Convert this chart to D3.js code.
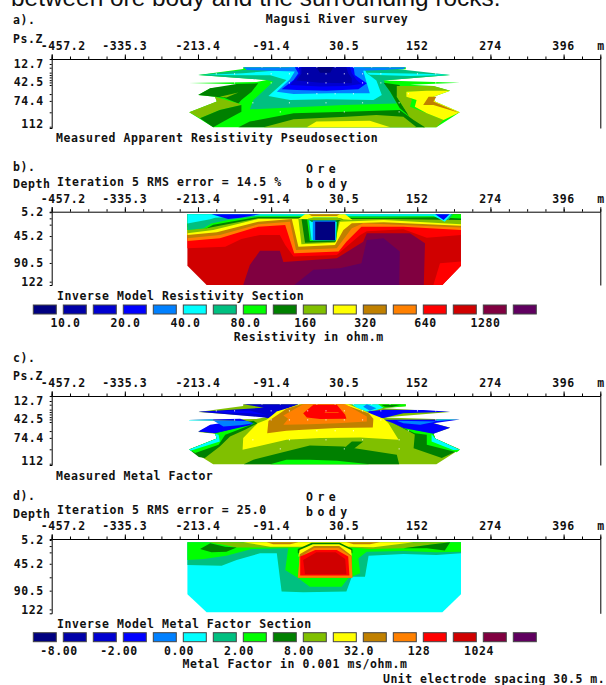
<!DOCTYPE html>
<html>
<head>
<meta charset="utf-8">
<script src="https://cdn.jsdelivr.net/npm/d3@7"></script>
<style>
  body { margin: 0; background: #fff; overflow: hidden; }
  svg { display: block; }
  text { font-family: "DejaVu Sans Mono", monospace; font-weight: bold; font-size: 11.5px; letter-spacing: 0.57px; fill: #111; }
</style>
</head>
<body>
<div id="chart"></div>
<script>
// level colours, same scale for both legends
const levelColors = ["#000080", "#0000a8", "#0000d0", "#0000ff", "#0080ff", "#00ffff", "#00c080", "#00ff00",
    "#008000", "#80c000", "#ffff00", "#c08000", "#ff8000", "#ff0000", "#d00000", "#800040", "#600060"];

const resistivityLabels = ["10.0", "20.0", "40.0", "80.0", "160", "320", "640", "1280"];
const metalLabels = ["-8.00", "-2.00", "0.00", "2.00", "8.00", "32.0", "128", "1024"];

const xMajorLabels = [-457.2, -335.3, -213.4, -91.4, 30.5, 152, 274, 396];

const pseudoDepthLabels = [12.7, 42.5, 74.4, 112];
const pseudoDepthTicks = [12.7, 18.8, 27, 31, 34.9, 39.4, 43.2, 47.5, 62.5, 73.8, 92.7, 116.6];
const modelDepthLabels = [5.2, 45.2, 90.5, 122];
const modelDepthTicks = [5.2, 15.4, 26, 45.2, 68, 90.5, 122];

// measured data points (metres, depth)
const pointRows = [
    [17.7, [-106.7, -76.2, -45.7, -15.2, 15.2, 45.7, 76.2, 106.7]],
    [29, [-182.9, -152.4, -91.4, -61, -30.5, 0, 30.5, 61, 91.4, 152.4, 182.9]],
    [44, [-152.4, -91.4, -61, -30.5, 0, 30.5, 61, 91.4, 182.9]],
    [62, [-15.2, 15.2, 45.7, 137.2]],
    [77, [-121.9, -61, 0, 61, 121.9]],
    [92, [-76.2, 30.5, 121.9]]
];

// section outlines, metres along the line and depth in metres
const pseudoOutline = [[-138, 18], [133, 18], [133, 21.5], [96, 24.8], [207, 31], [96, 40], [223, 43.6], [140, 47], [179, 49],
    [207, 57], [179, 66.8], [182, 75], [223, 92.7], [184, 117.6], [-188, 117.6], [-228, 92.7], [-182, 75], [-185, 66.8], [-213, 64],
    [-193, 53], [-127, 46.5], [-228, 44], [-116, 42.5], [-99, 39], [-213, 31], [-138, 21]];
const resModelOutline = [[-231, 8.6], [225, 8.6], [225, 95], [194, 127.6], [-199, 127.6], [-231, 95]];
const metalModelOutline = [[-231, 9], [225, 9], [225, 96.6], [194, 127], [-199, 127], [-231, 96.6]];

// a) contour bands in paint order: [level, points]
const apparentResBands = [
    [7, pseudoOutline],
    [6, [[-213, 31], [-138, 22.6], [133, 22.6], [207, 31], [96, 40], [118, 78], [29, 80.6], [-49, 84.5], [-127, 87.8], [-121, 72.3], [-88, 42], [-99, 39]]],
    [5, [[-204, 31], [-138, 28], [-71, 22.6], [-60, 18], [62, 18], [68, 28], [84, 40], [93, 64], [79, 72.3], [1, 71], [-60, 72.3], [-96, 65.7], [-66, 39], [-93, 31.5]]],
    [5, [[68, 27], [162, 29], [207, 31], [140, 32.6], [73, 30.5]]],
    [4, [[-138, 18], [133, 18], [129, 21.5], [62, 23.7], [68, 44.7], [73, 61], [7, 61], [-54, 62.4], [-82, 58.5], [-60, 38], [-52, 25], [-132, 22.6]]],
    [3, [[-52, 18], [46, 18], [48, 31], [68, 44.7], [54, 54.7], [1, 57], [-49, 55.8], [-74, 54.7], [-54, 39], [-46, 28]]],
    [2, [[-46, 18], [40, 18], [43, 28], [51, 39], [59, 46], [34, 49], [-10, 50], [-60, 47.5], [-50, 36.4], [-43, 28]]],
    [1, [[-41, 18], [34, 18], [37, 28], [43, 36.4], [43, 44.7], [-10, 43.6], [-49, 40], [-41, 29]]],
    [0, [[-16, 18], [12, 18], [7, 27], [-10, 27]]],
    [8, [[-213, 64], [-193, 53], [-149, 46], [-113, 44.7], [-124, 58.5], [-141, 72.3], [-146, 78], [-171, 68], [-185, 66.8]]],
    [9, [[-177, 66.8], [-146, 60], [-166, 68]]],
    [9, [[-228, 92.7], [-182, 75], [-185, 66.8], [-146, 78], [-141, 80.6], [-177, 89], [-210, 102.7]]],
    [8, [[-210, 102.7], [-177, 89], [-141, 80.6], [-141, 91.6], [-171, 108], [-188, 117.6]]],
    [8, [[96, 43.6], [123, 47.5], [118, 66.8], [134, 91.6], [184, 115.4], [162, 117.6], [146, 105.4], [123, 86], [107, 58.5]]],
    [9, [[118, 49], [179, 49], [207, 57], [162, 58.5], [134, 58.5], [143, 72.3], [140, 83.4], [168, 94.4], [196, 105.4], [184, 117.6], [148, 117.6], [134, 91.6], [118, 66.8]]],
    [10, [[134, 58.5], [168, 57], [207, 57], [179, 66.8], [182, 75], [223, 92.7], [196, 105.4], [168, 94.4], [148, 83.4], [151, 72.3], [134, 66.8]]],
    [11, [[162, 80.6], [171, 66.8], [184, 66.8], [179, 75], [223, 94], [179, 80.6]]],
    [8, [[-146, 117.6], [-127, 108], [-54, 94.4], [34, 91.6], [123, 89], [146, 105.4], [165, 117.6]]],
    [9, [[-104, 117.6], [-54, 104.3], [34, 100], [84, 97], [129, 100], [151, 117.6]]],
    [10, [[-32, 117.6], [-16, 108], [73, 106.5], [107, 117.6]]]
];

// b) inverse model resistivity
const modelResBands = [
    [14, resModelOutline],
    [15, [[-138, 127.6], [-127, 93.9], [-110, 70], [-77, 70], [-71, 89], [18, 82.6], [62, 54.6], [68, 40.6], [140, 40.6], [165, 57.4], [163, 127.6]]],
    [16, [[-53, 127.6], [-21, 102], [23, 99.5], [59, 91], [68, 51.8], [96, 49], [123, 71.4], [122, 127.6]]],
    [13, [[225, 88], [190, 91], [179, 127.6], [194, 127.6], [225, 95]]],
    [13, [[-231, 65.8], [-168, 63], [-141, 50], [-110, 43.4], [-77, 43.4], [-68, 60.2], [-54, 79.8], [18, 77], [34, 63], [57, 43.4], [68, 37], [129, 33.6], [168, 48], [225, 43.4], [225, 8.6], [-231, 8.6]]],
    [12, [[-231, 53.5], [-177, 49], [-113, 29.4], [-68, 26.6], [-53, 74], [21, 71.4], [34, 54.6], [59, 29.4], [129, 29.4], [225, 35], [225, 8.6], [-231, 8.6]]],
    [11, [[-231, 49], [-177, 43.4], [-113, 25.4], [-60, 21], [-50, 68.6], [18, 65.8], [43, 32], [62, 23.8], [225, 31], [225, 8.6], [-231, 8.6]]],
    [10, [[-231, 43.4], [-182, 38.9], [-113, 21], [-57, 16.5], [-46, 63], [15, 60.2], [29, 35], [43, 23.8], [96, 22], [225, 27.7], [225, 8.6], [-231, 8.6]]],
    [9, [[-231, 40.6], [-188, 35], [-113, 16.5], [-46, 16.5], [-41, 59], [15, 56.3], [23, 21], [96, 18], [225, 25.4], [225, 8.6], [-231, 8.6]]],
    [8, [[-199, 32], [-113, 15.4], [-41, 15.4], [-35, 56.3], [16, 54.6], [21, 20], [29, 16.6], [96, 16.6], [225, 18.3], [225, 8.6], [-231, 8.6], [-231, 30]]],
    [7, [[-231, 35], [-199, 32], [-188, 26], [-113, 13], [-32, 13], [-27, 53.5], [17, 52.4], [19, 14.5], [96, 14.5], [184, 13.6], [225, 15.8], [225, 8.6], [-231, 8.6]]],
    [6, [[-231, 35], [-204, 32], [-191, 24], [-163, 18], [-113, 11.8], [-30, 11.8], [-26, 52], [17, 52], [18, 12.3], [96, 12.9], [179, 11.8], [204, 18], [212, 8.6], [-231, 8.6]]],
    [5, [[-231, 24], [-193, 17], [-185, 14.5], [-113, 10.6], [-29, 10.6], [-24, 52], [16, 52], [18, 11], [179, 11], [198, 21], [209, 8.6], [-231, 8.6]]],
    [3, [[-191, 8.6], [-163, 16.5], [-143, 14.2], [-110, 8.6]]],
    [3, [[182, 8.6], [206, 8.6], [196, 18]]],
    [10, [[-46, 16.5], [-35, 8.6], [32, 8.6], [44, 18], [29, 17], [18, 14], [-21, 14], [-32, 17]]],
    [9, [[-32, 17], [-21, 14], [18, 14], [29, 17], [23, 18.5], [-27, 18.5]]],
    [8, [[-28, 18.5], [24, 18.5], [20, 21], [-24, 21]]],
    [11, [[-29, 8.6], [23, 8.6], [18, 11.5], [-24, 11.5]]],
    [4, [[-22, 19], [16, 19], [16, 52.5], [-22, 52.5]]],
    [0, [[-18, 21], [15, 21], [15, 51.8], [-18, 51.8]]]
];

// c) measured metal factor
const apparentMetalBands = [
    [9, pseudoOutline],
    [8, [[-212, 105.6], [-228, 93], [-182, 75], [-185, 66], [-213, 63], [-185, 57.6], [-121, 45.5], [-114, 49.4], [-135, 60.4], [-160, 71.5], [-177, 88], [-202, 107.3]]],
    [7, [[-218, 99], [-228, 93], [-182, 75], [-185, 66], [-160, 60], [-127, 50], [-118, 49.4], [-168, 68.7], [-179, 85]]],
    [5, [[-226, 95], [-228, 93], [-182, 75], [-185, 67], [-179, 68.7], [-177, 79.8]]],
    [8, [[107, 46.6], [148, 68], [146, 90.8], [193, 107.3], [223, 93.5], [182, 75], [179, 66], [129, 57.6]]],
    [7, [[148, 66], [168, 68.7], [168, 85], [218, 97.5], [223, 93.5], [182, 75], [179, 66], [129, 57.6]]],
    [5, [[176, 67.8], [182, 75], [223, 93.5], [212, 94], [176, 79.8]]],
    [2, [[-138, 18], [-46, 18], [-71, 27.5], [-82, 30], [-93, 42], [-102, 40], [-213, 30.5], [-104, 23.7]]],
    [3, [[-213, 30.5], [-127, 28.5], [-99, 36], [-127, 33]]],
    [3, [[-228, 44], [-143, 42], [-121, 49.4], [-127, 53], [-185, 66], [-213, 63], [-193, 52], [-149, 45.5]]],
    [4, [[-188, 45], [-132, 46], [-121, 49.4], [-143, 53], [-171, 55]]],
    [5, [[-228, 44], [-188, 43.5], [-188, 45], [-228, 45]]],
    [3, [[68, 30], [96, 27], [162, 27.5], [207, 30.5], [129, 32.8], [96, 40.8], [84, 42], [73, 32.8]]],
    [5, [[43, 18], [87, 18], [96, 23.7], [84, 27.5], [68, 30], [51, 23.7]]],
    [4, [[68, 18], [84, 24.5], [73, 29], [62, 22]]],
    [7, [[87, 18], [133, 18], [133, 21.5], [96, 23.7]]],
    [8, [[92, 19], [125, 19], [110, 22.5], [98, 22]]],
    [3, [[96, 43.8], [223, 43.5], [179, 49.4], [207, 57], [179, 67], [129, 57.6], [112, 49.4]]],
    [4, [[118, 45.5], [184, 46.6], [157, 52], [129, 49.4]]],
    [5, [[184, 43.5], [223, 43.5], [184, 45.5]]],
    [10, [[-139, 93.5], [-138, 74], [-114, 49.4], [-99, 43.8], [-82, 30], [-43, 18], [37, 18], [73, 32.8], [96, 42], [104, 49.4], [121, 77], [57, 73], [-10, 74], [-66, 77]]],
    [11, [[-98, 66], [-96, 46], [-66, 25.6], [-41, 18], [29, 18], [71, 32.8], [79, 42], [78, 56.5], [18, 57.6], [-38, 60.4], [-66, 62]]],
    [12, [[-71, 52], [-63, 42], [-71, 36.5], [-38, 18], [32, 18], [68, 38.3], [68, 46.6], [18, 49.4], [-27, 51]]],
    [13, [[-38, 32.8], [-21, 19], [18, 19], [32, 35.6], [34, 42], [-10, 42.6], [-32, 40]]],
    [12, [[-2, 31], [21, 31], [21, 32], [-2, 32]]],
    [8, [[-137, 117.3], [-121, 110], [-77, 99], [-27, 86.3], [29, 88], [118, 101.8], [122, 117.3]]],
    [8, [[32, 89.5], [43, 79.8], [62, 79.8], [46, 92]]],
    [7, [[-93, 117.3], [-66, 110], [-27, 110], [18, 111.6], [73, 117.3]]]
];

// d) inverse model metal factor
const modelMetalBands = [
    [5, metalModelOutline],
    [6, [[-231, 47.3], [-174, 48.4], [-149, 39], [-110, 27.6], [-82, 27.6], [-74, 92], [-38, 93.3], [34, 92], [43, 66.9], [65, 66.9], [71, 31.6], [129, 28.8], [184, 30.5], [225, 27.6], [225, 9], [-231, 9]]],
    [7, [[-231, 39], [-204, 37.2], [-166, 31.6], [-124, 20.3], [-63, 19.2], [-68, 55.7], [-46, 69.7], [-27, 83.7], [26, 83.7], [37, 69.7], [57, 61], [54, 36], [68, 24.8], [129, 23.7], [184, 26], [225, 24.8], [225, 9], [-231, 9]]],
    [9, [[-196, 9], [207, 9], [179, 12.5], [129, 19.2], [73, 20.3], [43, 18], [-46, 18], [-149, 18], [-168, 13.6]]],
    [8, [[-210, 20.3], [-193, 10.8], [-168, 16.4], [-149, 18], [-166, 24.8], [-191, 26]]],
    [8, [[129, 19.2], [179, 12.5], [207, 9], [198, 23], [168, 19.2]]],
    [10, [[-138, 9], [146, 9], [79, 17.5], [40, 16.4], [-46, 16.4], [-93, 16.4]]],
    [11, [[-99, 9], [-46, 9], [-60, 12.5], [-88, 12.5]]],
    [11, [[34, 9], [90, 9], [73, 12.5], [46, 12.5]]],
    [8, [[-47, 20.3], [-24, 10], [23, 10], [44, 20.3], [44, 27.6], [-47, 27.6]]],
    [10, [[-44, 22], [-22, 12.5], [22, 12.5], [42, 22], [43, 33], [-46, 33]]],
    [11, [[-46, 68.6], [-44, 29.3], [-20, 15.3], [22, 15.3], [43, 31.6], [44, 68.6]]],
    [12, [[-47, 68.6], [-44, 35], [-20, 18.6], [21, 18.6], [42, 33], [44, 68.6]]],
    [13, [[-43, 65], [-43, 33], [-18, 22], [18, 22], [37, 33], [39, 65]]],
    [14, [[-35, 63], [-38, 39], [-16, 26], [16, 26], [32, 37], [34, 63]]]
];

const width = 606, height = 685;

const svg = d3.select("#chart").append("svg")
    .attr("width", width)
    .attr("height", height);

function label(x, y, txt, anchor) {
    return svg.append("text")
        .attr("x", x)
        .attr("y", y)
        .attr("dy", "0.36em")
        .attr("text-anchor", anchor || "start")
        .text(txt);
}

let xScale = d3.scaleLinear().domain([-457.2, 457.2]).range([51.7, 600.3]);
let fillColor = d3.scaleOrdinal().domain(d3.range(levelColors.length)).range(levelColors);

function drawSection(bands, yDomain, yRange, depthLabels, depthTicks, points) {
    let yScale = d3.scaleLinear().domain(yDomain).range(yRange);
    let line = d3.line().x(d => xScale(d[0])).y(d => yScale(d[1])).curve(d3.curveLinearClosed);

    svg.append("g").selectAll("path")
        .data(bands)
        .enter()
        .append("path")
        .attr("d", d => line(d[1]))
        .attr("fill", d => fillColor(d[0]));

    if (points) {
        points.forEach(row => {
            svg.append("g").selectAll("rect")
                .data(row[1])
                .enter()
                .append("rect")
                .attr("x", d => xScale(d) - 0.5)
                .attr("y", yScale(row[0]) - 0.5)
                .attr("width", 1)
                .attr("height", 1)
                .attr("fill", "#fff");
        });
    }

    // top axis, minor ticks every electrode spacing
    let top = yRange[0];
    svg.append("g")
        .attr("transform", `translate(0,${top})`)
        .call(d3.axisTop(xScale).tickValues(d3.range(0, 31).map(i => -457.2 + i * 30.48)).tickSize(2.5).tickFormat(""))
        .call(g => g.select(".domain").remove());
    svg.append("g")
        .attr("transform", `translate(0,${top})`)
        .call(d3.axisTop(xScale).tickValues(xMajorLabels).tickSize(4.5).tickFormat(""));

    xMajorLabels.forEach((d, i) => {
        label(i === 0 ? xScale(d) + 11.5 : xScale(d), top - 13, String(d), "middle");
    });
    label(601, top - 13, "m", "middle");

    // depth axis
    svg.append("g")
        .attr("transform", `translate(${xScale.range()[0]},0)`)
        .call(d3.axisLeft(yScale).tickValues(depthTicks).tickSize(2).tickFormat(""));
    svg.append("g")
        .attr("transform", `translate(${xScale.range()[0]},0)`)
        .call(d3.axisLeft(yScale).tickValues(depthLabels).tickSize(0).tickPadding(8).tickFormat(d3.format("~f")))
        .call(g => g.select(".domain").remove());

    svg.append("g")
        .attr("transform", `translate(${xScale.range()[1]},0)`)
        .call(d3.axisRight(yScale).tickValues([]).tickSize(0));
}

function drawLegend(y, labels, labelStart, labelY) {
    let legendX = d3.scaleLinear().domain([0, levelColors.length - 1]).range([33.3, 513.3]);
    svg.append("g").selectAll("rect")
        .data(levelColors)
        .enter()
        .append("rect")
        .attr("x", (d, i) => legendX(i))
        .attr("y", y)
        .attr("width", 23)
        .attr("height", 9)
        .attr("fill", d => d)
        .attr("stroke", "#444")
        .attr("stroke-width", 1);
    labels.forEach((d, i) => label(labelStart + 60 * i, labelY, d, "middle"));
}

// clipped caption from the page above the figure
svg.append("text")
    .attr("x", 11)
    .attr("y", 6)
    .style("font-family", "'Liberation Sans'")
    .style("font-weight", "normal")
    .style("font-size", "24.4px")
    .style("letter-spacing", "0")
    .text("between ore body and the surrounding rocks.");

// a)
label(13, 20, "a).");
label(337, 19, "Magusi River survey", "middle");
label(13, 39, "Ps.Z");
drawSection(apparentResBands, [4.4, 118.7], [59, 128], pseudoDepthLabels, pseudoDepthTicks, pointRows);
label(56, 138, "Measured Apparent Resistivity Pseudosection");

// b)
label(13, 167, "b).");
label(13, 184, "Depth");
label(57, 182, "Iteration 5 RMS error = 14.5 %");
label(306, 169, "Ore").style("letter-spacing", "4.5px");
label(306, 184, "body").style("letter-spacing", "4.5px");
drawSection(modelResBands, [4.2, 127.6], [211.7, 285], modelDepthLabels, modelDepthTicks);
label(57, 296, "Inverse Model Resistivity Section");
drawLegend(305, resistivityLabels, 65.5, 322.7);
label(308.7, 336.7, "Resistivity in ohm.m", "middle");

// c)
label(13, 357.7, "c).");
label(13, 375.7, "Ps.Z");
drawSection(apparentMetalBands, [4.4, 118.7], [396, 465], pseudoDepthLabels, pseudoDepthTicks, pointRows);
label(56, 475.7, "Measured Metal Factor");

// d)
label(13, 495.7, "d).");
label(13, 514, "Depth");
label(57, 510.3, "Iteration 5 RMS error = 25.0");
label(306, 497.3, "Ore").style("letter-spacing", "4.5px");
label(306, 512, "body").style("letter-spacing", "4.5px");
drawSection(modelMetalBands, [3.5, 128.6], [539, 613.3], modelDepthLabels, modelDepthTicks);
label(57, 623.7, "Inverse Model Metal Factor Section");
drawLegend(632.7, metalLabels, 59, 650.7);
label(295, 664.3, "Metal Factor in 0.001 ms/ohm.m", "middle");
label(383, 679, "Unit electrode spacing 30.5 m.").style("letter-spacing", "0.48px");
</script>
</body>
</html>
